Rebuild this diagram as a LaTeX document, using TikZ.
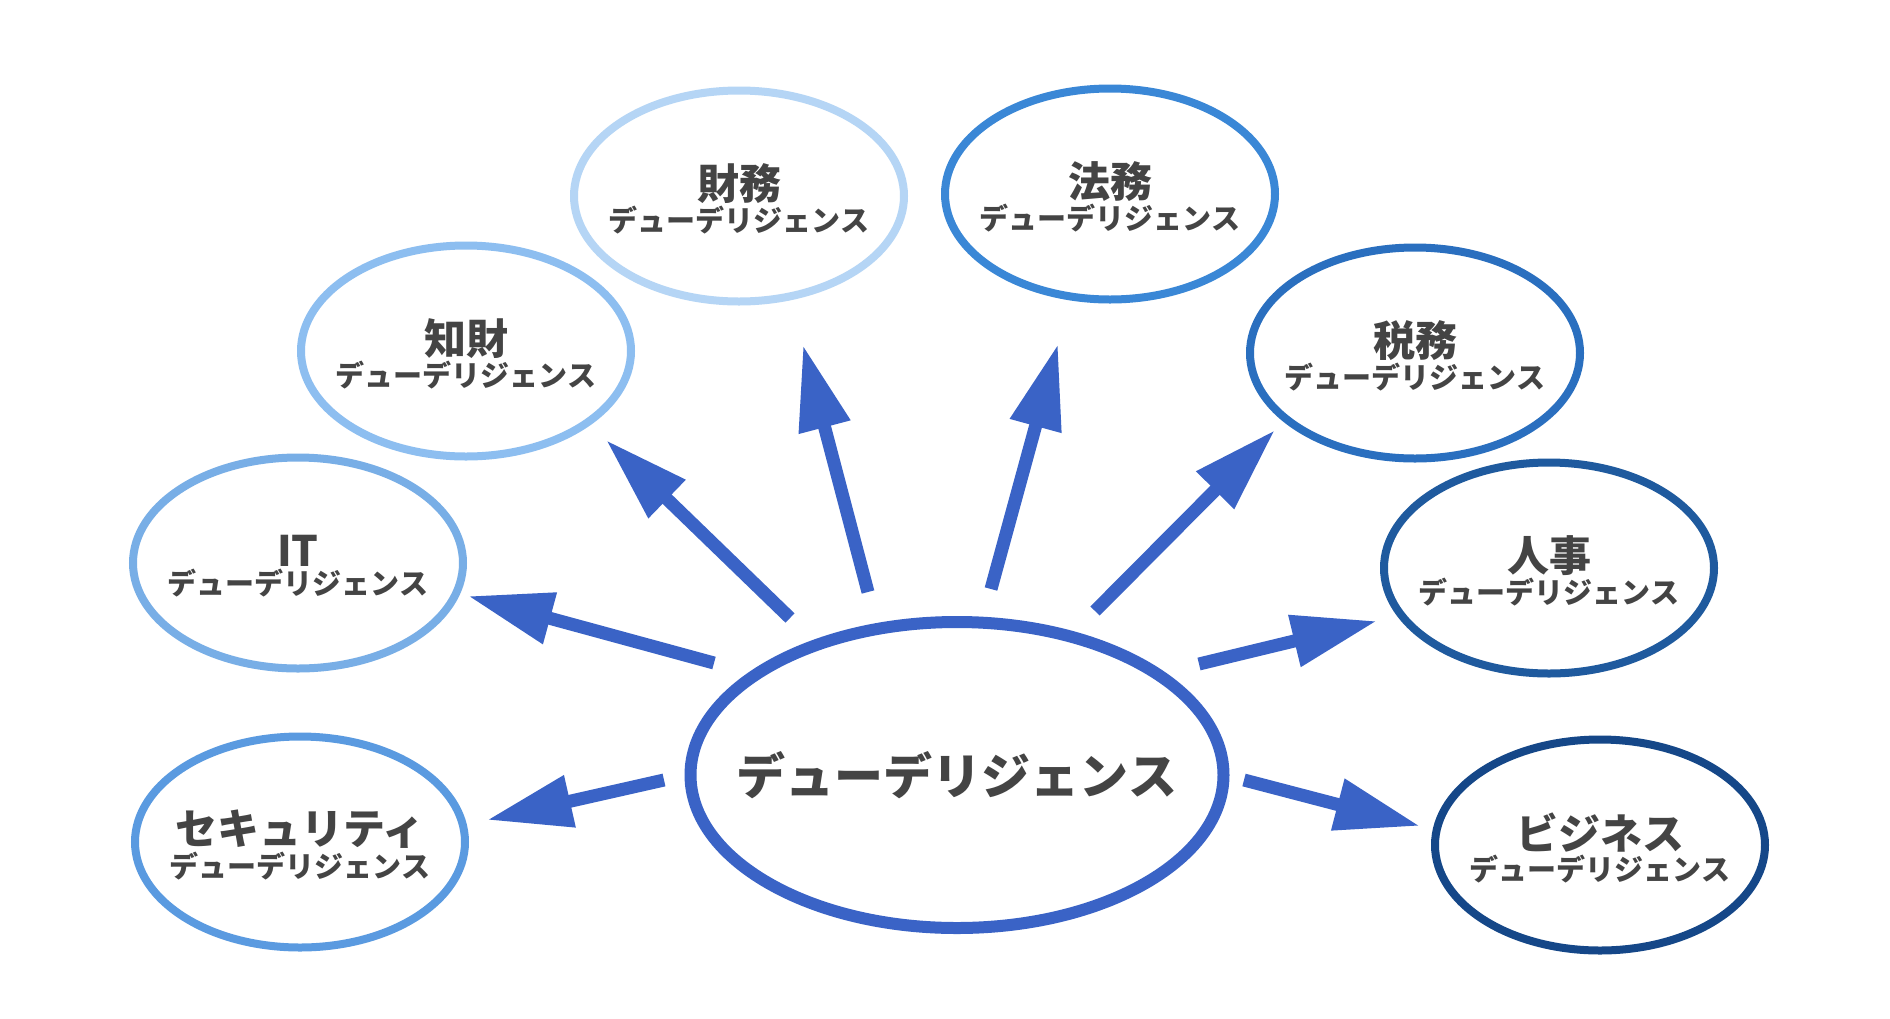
\documentclass[tikz,border=0pt]{standalone}
\usepackage{fontspec}
\setmainfont{Noto Sans CJK JP}
\usetikzlibrary{shapes.geometric,arrows.meta}
\definecolor{txt}{HTML}{444444}
\definecolor{arr}{HTML}{3A63C6}
\definecolor{cZaimu}{HTML}{B5D5F5}
\definecolor{cChizai}{HTML}{8DBEF0}
\definecolor{cIT}{HTML}{78AEE6}
\definecolor{cSec}{HTML}{5A9AE0}
\definecolor{cHomu}{HTML}{3A87D6}
\definecolor{cZeimu}{HTML}{2A6FBF}
\definecolor{cJinji}{HTML}{1F5A9E}
\definecolor{cBiz}{HTML}{154788}
\definecolor{cMain}{HTML}{3A63C6}
\tikzset{
  sat/.style={ellipse, draw=#1, line width=8pt, minimum width=330pt, minimum height=211pt,
    inner sep=0pt, outer sep=0pt},
  mainbox/.style={ellipse, draw=cMain, line width=12pt, minimum width=533pt, minimum height=306pt,
    inner sep=0pt, outer sep=0pt},
  lbl/.style={align=center, text=txt, font=\bfseries, inner sep=0pt},
  mainlbl/.style={text=txt, font=\bfseries\fontsize{49}{56}\selectfont, inner sep=0pt},
  arrowline/.style={draw=arr, line width=13pt, -{Triangle[length=85pt,width=50pt]}},
}
\newcommand{\satlabel}[1]{{\fontsize{42}{40}\selectfont #1}\\[2pt]{\fontsize{29}{32}\selectfont デューデリジェンス}}
\begin{document}
\begin{tikzpicture}[x=1pt,y=-1pt]
\useasboundingbox (0,0) rectangle (1890,1018);
\fill[white] (0,0) rectangle (1890,1018);

\node[mainbox] (main) at (957,775) {};
\node[mainlbl] (mainT) at (main.center) {デューデリジェンス};

\node[sat=cZaimu]  (zaimu)  at (739,196) {};
\node[sat=cHomu]   (homu)   at (1110,194) {};
\node[sat=cChizai] (chizai) at (466,351) {};
\node[sat=cZeimu]  (zeimu)  at (1415,353) {};
\node[sat=cIT]     (it)     at (298,563) {};
\node[sat=cJinji]  (jinji)  at (1549,568) {};
\node[sat=cSec]    (sec)    at (300,842) {};
\node[sat=cBiz]    (biz)    at (1600,845) {};

\node[lbl] (zaimuT)  at ([yshift=-3pt]zaimu.center)  {\satlabel{財務}};
\node[lbl] (homuT)   at ([yshift=-3pt]homu.center)   {\satlabel{法務}};
\node[lbl] (chizaiT) at ([yshift=-3pt]chizai.center) {\satlabel{知財}};
\node[lbl] (zeimuT)  at ([yshift=-3pt]zeimu.center)  {\satlabel{税務}};
\node[lbl] (itT)     at ([yshift=-3pt]it.center)     {\satlabel{IT}};
\node[lbl] (jinjiT)  at ([yshift=-3pt]jinji.center)  {\satlabel{人事}};
\node[lbl] (secT)    at ([yshift=-3pt]sec.center)    {\satlabel{セキュリティ}};
\node[lbl] (bizT)    at ([yshift=-3pt]biz.center)    {\satlabel{ビジネス}};

% arrow ends
\coordinate (aITs) at (714,663);   \coordinate (aITe) at (468,596);
\coordinate (aSecs) at (664,780);  \coordinate (aSece) at (487,820);
\coordinate (aChs) at (790,618);   \coordinate (aChe) at (606,440);
\coordinate (aZas) at (868,592);   \coordinate (aZae) at (803,345);
\coordinate (aHos) at (991,589);   \coordinate (aHoe) at (1058,344);
\coordinate (aZes) at (1095,611);  \coordinate (aZee) at (1275,430);
\coordinate (aJis) at (1199,664);  \coordinate (aJie) at (1377,621);
\coordinate (aBis) at (1244,780);  \coordinate (aBie) at (1420,826);

\draw[arrowline] (aITs) -- (aITe);
\draw[arrowline] (aSecs) -- (aSece);
\draw[arrowline] (aChs) -- (aChe);
\draw[arrowline] (aZas) -- (aZae);
\draw[arrowline] (aHos) -- (aHoe);
\draw[arrowline] (aZes) -- (aZee);
\draw[arrowline] (aJis) -- (aJie);
\draw[arrowline] (aBis) -- (aBie);
\end{tikzpicture}
\end{document}
